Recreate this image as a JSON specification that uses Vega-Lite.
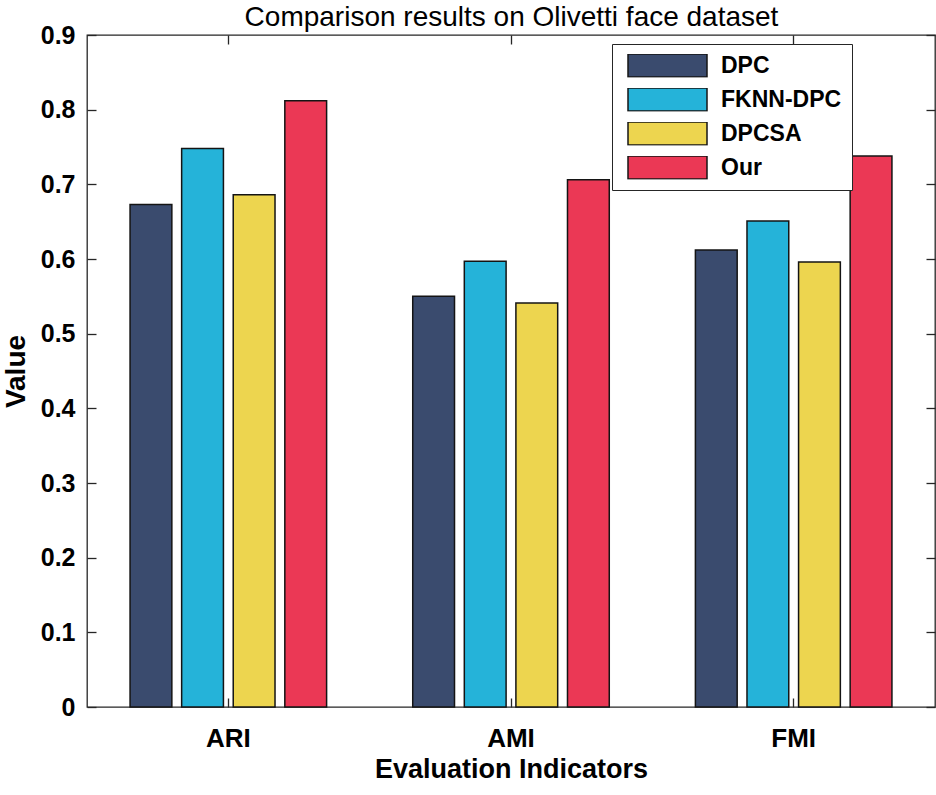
{
  "$schema": "https://vega.github.io/schema/vega-lite/v6.json",
  "width": 848,
  "height": 672,
  "autosize": {"type": "none"},
  "padding": {"left": 87, "top": 35, "right": 1, "bottom": 88},
  "background": "white",
  "data": {
    "values": [
      {"indicator": "ARI", "method": "DPC", "value": 0.673},
      {"indicator": "ARI", "method": "FKNN-DPC", "value": 0.748},
      {"indicator": "ARI", "method": "DPCSA", "value": 0.686},
      {"indicator": "ARI", "method": "Our", "value": 0.812},
      {"indicator": "AMI", "method": "DPC", "value": 0.550},
      {"indicator": "AMI", "method": "FKNN-DPC", "value": 0.597},
      {"indicator": "AMI", "method": "DPCSA", "value": 0.541},
      {"indicator": "AMI", "method": "Our", "value": 0.706},
      {"indicator": "FMI", "method": "DPC", "value": 0.612},
      {"indicator": "FMI", "method": "FKNN-DPC", "value": 0.651},
      {"indicator": "FMI", "method": "DPCSA", "value": 0.596},
      {"indicator": "FMI", "method": "Our", "value": 0.738}
    ]
  },
  "config": {
    "font": "Liberation Sans",
    "view": {"stroke": "#262626", "strokeWidth": 1.3},
    "axis": {
      "grid": false,
      "domain": false,
      "tickColor": "#262626",
      "tickWidth": 1.3,
      "tickSize": 9,
      "offset": -9,
      "labelColor": "#000000",
      "titleColor": "#000000"
    }
  },
  "resolve": {"axis": {"x": "independent", "y": "independent"}},
  "layer": [
    {
      "mark": {"type": "bar", "stroke": "#141414", "strokeWidth": 1.5},
      "encoding": {
        "x": {
          "field": "indicator",
          "type": "nominal",
          "sort": ["ARI", "AMI", "FMI"],
          "scale": {"paddingInner": 0.27, "paddingOuter": 0.135},
          "axis": {
            "orient": "bottom",
            "title": "Evaluation Indicators",
            "labelAngle": 0,
            "labelFontSize": 26,
            "labelFontWeight": "bold",
            "labelPadding": 18,
            "titleFontSize": 27,
            "titleFontWeight": "bold",
            "titlePadding": 5
          }
        },
        "xOffset": {
          "field": "method",
          "type": "nominal",
          "sort": ["DPC", "FKNN-DPC", "DPCSA", "Our"],
          "scale": {"paddingInner": 0.19, "paddingOuter": 0.095}
        },
        "y": {
          "field": "value",
          "type": "quantitative",
          "scale": {"domain": [0, 0.9], "nice": false},
          "axis": {
            "orient": "left",
            "title": "Value",
            "values": [0, 0.1, 0.2, 0.3, 0.4, 0.5, 0.6, 0.7, 0.8, 0.9],
            "format": ".1~f",
            "labelFontSize": 25,
            "labelFontWeight": "bold",
            "labelPadding": 12,
            "titleFontSize": 28,
            "titleFontWeight": "bold",
            "titlePadding": 10
          }
        },
        "color": {
          "field": "method",
          "type": "nominal",
          "sort": ["DPC", "FKNN-DPC", "DPCSA", "Our"],
          "scale": {
            "domain": ["DPC", "FKNN-DPC", "DPCSA", "Our"],
            "range": ["#3A4B6E", "#25B3D9", "#EDD54F", "#EB3855"]
          },
          "legend": {
            "orient": "none",
            "legendX": 525,
            "legendY": 9,
            "title": null,
            "symbolType": "M-1,-0.2911H1V0.2911H-1Z",
            "symbolSize": 6241,
            "symbolStrokeColor": "#141414",
            "symbolStrokeWidth": 1.5,
            "symbolOpacity": 1,
            "symbolOffset": 5,
            "clipHeight": 23,
            "rowPadding": 10,
            "labelOffset": 13,
            "labelFont": "Liberation Sans",
            "labelFontSize": 23,
            "labelFontWeight": "bold",
            "labelColor": "#000000",
            "labelLimit": 400,
            "padding": 10,
            "strokeColor": "#262626",
            "fillColor": "white"
          }
        }
      }
    },
    {
      "mark": {"type": "bar", "opacity": 0},
      "encoding": {
        "x": {
          "field": "indicator",
          "type": "nominal",
          "sort": ["ARI", "AMI", "FMI"],
          "axis": {
            "orient": "top",
            "labels": false,
            "title": "Comparison results on Olivetti face dataset",
            "titleFontSize": 28,
            "titleFontWeight": "normal",
            "titlePadding": 3
          }
        },
        "y": {
          "field": "value",
          "type": "quantitative",
          "axis": {
            "orient": "right",
            "labels": false,
            "title": null,
            "values": [0, 0.1, 0.2, 0.3, 0.4, 0.5, 0.6, 0.7, 0.8, 0.9]
          }
        }
      }
    }
  ]
}
